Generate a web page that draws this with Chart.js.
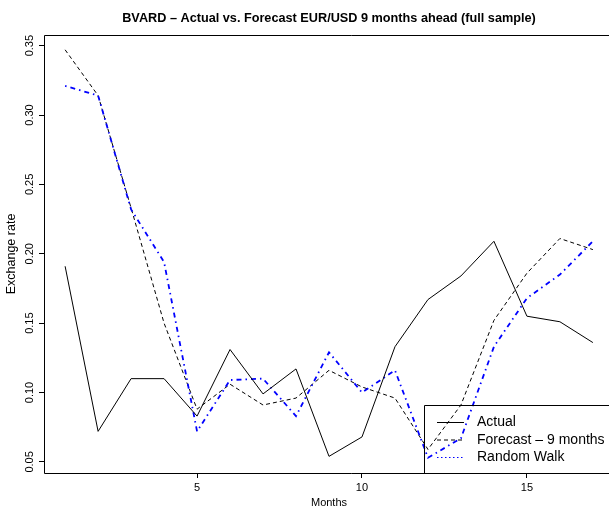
<!DOCTYPE html>
<html>
<head>
<meta charset="utf-8">
<title>BVARD EUR/USD</title>
<script src="https://cdn.jsdelivr.net/npm/chart.js@4.4.1/dist/chart.umd.min.js"></script>
<style>
  html, body { margin: 0; padding: 0; background: #fff; overflow: hidden; }
  #wrap { width: 658px; height: 510px; }
</style>
</head>
<body>
<div id="wrap"><canvas id="chart" width="658" height="510"></canvas></div>
<script>
// series, one value per month
var months = [1, 2, 3, 4, 5, 6, 7, 8, 9, 10, 11, 12, 13, 14, 15, 16, 17];
var actual = [0.191, 0.072, 0.110, 0.110, 0.083, 0.131, 0.099, 0.117, 0.054, 0.068, 0.133, 0.167, 0.184, 0.209, 0.155, 0.151, 0.136];
var forecast9m = [0.321, 0.314, 0.232, 0.194, 0.072, 0.109, 0.110, 0.083, 0.129, 0.100, 0.116, 0.053, 0.067, 0.133, 0.168, 0.185, 0.209];
var randomWalk = [0.347, 0.314, 0.233, 0.150, 0.088, 0.106, 0.091, 0.096, 0.116, 0.104, 0.096, 0.059, 0.091, 0.152, 0.186, 0.211, 0.203];

var xTicks = [5, 10, 15];
var yTicks = [0.05, 0.10, 0.15, 0.20, 0.25, 0.30, 0.35];

var legendNames = ["Actual", "Forecast \u2013 9 months", "Random Walk"];

var FONT = "'Liberation Sans', Arial, Helvetica, sans-serif";
Chart.defaults.font.family = FONT;
Chart.defaults.color = "#000";

function pairs(ys)
{
	return months.map(function(m, i){ return {x: m, y: ys[i]}; });
}

// open frame: left, top and bottom sides of the plotting region
function frame(ctx, l, t, r, b)
{
	ctx.beginPath();
	ctx.moveTo(r, t + 0.5);
	ctx.lineTo(l + 0.5, t + 0.5);
	ctx.lineTo(l + 0.5, b + 0.5);
	ctx.lineTo(r, b + 0.5);
	ctx.stroke();
}

var boxPlugin = {
	id: "plotBox",
	afterDraw: function(chart){
		var a = chart.chartArea, ctx = chart.ctx;
		ctx.save();
		ctx.strokeStyle = "#000";
		ctx.lineWidth = 1;
		frame(ctx, Math.round(a.left), Math.round(a.top), chart.width, Math.round(a.bottom));
		ctx.restore();
	}
};

// boxed legend in the bottom right corner of the plot
var legendStyles = [
	{color: "#000", dash: [], width: 1},
	{color: "#000", dash: [4, 3], width: 1},
	{color: "#0000ff", dash: [1.5, 2.5], width: 1.2}
];
var boxLegend = {
	id: "boxLegend",
	afterDraw: function(chart){
		var a = chart.chartArea, ctx = chart.ctx;
		var w = 190, h = 68;
		var left = Math.round(a.right - w), top = Math.round(a.bottom - h);
		ctx.save();
		ctx.strokeStyle = "#000";
		ctx.lineWidth = 1;
		frame(ctx, left, top, chart.width, top + h);
		ctx.font = "14px " + FONT;
		ctx.textBaseline = "middle";
		ctx.textAlign = "left";
		for(var i = 0; i < legendNames.length; i++)
		{
			var y = top + 17.5 + i * 17.5;
			var s = legendStyles[i];
			ctx.beginPath();
			ctx.strokeStyle = s.color;
			ctx.lineWidth = s.width;
			ctx.setLineDash(s.dash);
			ctx.moveTo(left + 13, y);
			ctx.lineTo(left + 40, y);
			ctx.stroke();
			ctx.setLineDash([]);
			ctx.fillStyle = "#000";
			ctx.fillText(legendNames[i], left + 53, y);
		}
		ctx.restore();
	}
};

window.onload = function(){
	var ctx = document.getElementById("chart").getContext("2d");
	var mychart = new Chart(ctx, {
		type: "line",
		data: {
			datasets: [
				{
					label: legendNames[0],
					data: pairs(actual),
					borderColor: "#000",
					borderWidth: 1
				},
				{
					label: legendNames[1],
					data: pairs(forecast9m),
					borderColor: "#0000ff",
					borderWidth: 1.8,
					borderDash: [1.5, 4, 5, 4]
				},
				{
					label: legendNames[2],
					data: pairs(randomWalk),
					borderColor: "#000",
					borderWidth: 1,
					borderDash: [4, 3]
				}
			]
		},
		options: {
			responsive: false,
			animation: false,
			layout: { padding: 0 },
			elements: {
				point: { radius: 0 },
				line: { tension: 0, fill: false }
			},
			plugins: {
				legend: { display: false },
				tooltip: { enabled: false },
				title: {
					display: true,
					text: "BVARD \u2013 Actual vs. Forecast EUR/USD 9 months ahead (full sample)",
					font: { size: 12.7, weight: "bold" },
					color: "#000",
					padding: { top: 11, bottom: 8.7 }
				}
			},
			scales: {
				x: {
					type: "linear",
					min: 0.36,
					max: 17.64,
					afterBuildTicks: function(scale){
						scale.ticks = xTicks.map(function(v){ return {value: v}; });
					},
					afterFit: function(scale){ scale.height = 37; },
					grid: { display: true, drawOnChartArea: false, drawTicks: true, tickLength: 5, color: "#000" },
					border: { display: false },
					ticks: {
						font: { size: 11 },
						padding: 3,
						maxRotation: 0,
						callback: function(v){ return v.toString(); }
					},
					title: {
						display: true,
						text: "Months",
						font: { size: 11 },
						padding: { top: 0, bottom: 0 }
					}
				},
				y: {
					type: "linear",
					min: 0.042,
					max: 0.3577,
					afterBuildTicks: function(scale){
						scale.ticks = yTicks.map(function(v){ return {value: v}; });
					},
					afterFit: function(scale){ scale.width = 44; },
					grid: { display: true, drawOnChartArea: false, drawTicks: true, tickLength: 5, color: "#000" },
					border: { display: false },
					ticks: {
						font: { size: 11 },
						minRotation: 90,
						maxRotation: 90,
						crossAlign: "center",
						padding: -2,
						callback: function(v){ return v.toFixed(2); }
					},
					title: {
						display: true,
						text: "Exchange rate",
						font: { size: 12.5 },
						padding: { top: 4.5, bottom: 0 }
					}
				},
				// empty right-hand margin, same width as the left axis
				yRight: {
					type: "linear",
					position: "right",
					min: 0.042,
					max: 0.3577,
					afterFit: function(scale){ scale.width = 44; },
					grid: { display: false },
					border: { display: false },
					ticks: { display: false }
				}
			}
		},
		plugins: [boxPlugin, boxLegend]
	});
};
</script>
</body>
</html>
